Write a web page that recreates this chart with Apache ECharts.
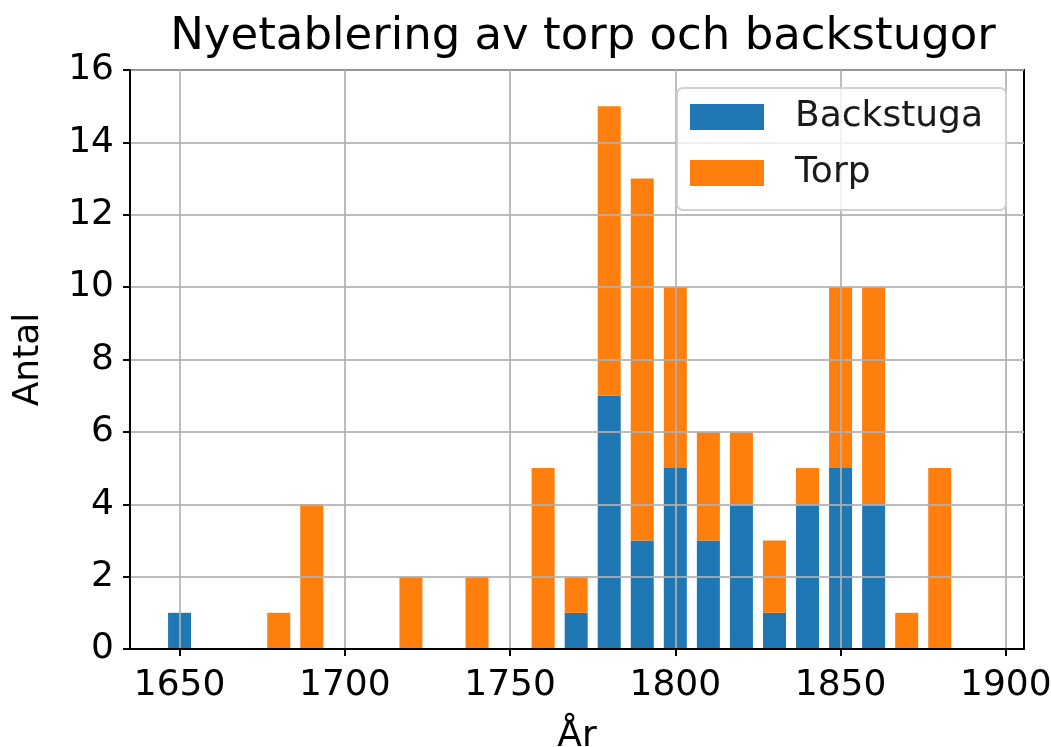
<!DOCTYPE html>
<html>
<head>
<meta charset="utf-8">
<script src="https://cdn.jsdelivr.net/npm/echarts@6/dist/echarts.min.js"></script>
<style>html,body{margin:0;padding:0;background:#fff}#c{width:1051px;height:747px}</style>
</head>
<body>
<div id="c"></div>
<script>
const years = [1650, 1680, 1690, 1720, 1740, 1760, 1770, 1780, 1790, 1800, 1810, 1820, 1830, 1840, 1850, 1860, 1870, 1880];
const backstuga = [1, 0, 0, 0, 0, 0, 1, 7, 3, 5, 3, 4, 1, 4, 5, 4, 0, 0];
const torp = [0, 1, 4, 2, 2, 5, 1, 8, 10, 5, 3, 2, 2, 1, 5, 6, 1, 5];
const xTicks = [1650, 1700, 1750, 1800, 1850, 1900];
const seriesNames = ['Backstuga', 'Torp'];
const titleText = 'Nyetablering av torp och backstugor';
const xName = 'År';
const yName = 'Antal';

const font = 'DejaVu Sans';
const chart = echarts.init(document.getElementById('c'), null, {renderer: 'canvas'});
const gridLine = {show: true, lineStyle: {color: 'rgba(176,176,176,0.85)', width: 2}};
chart.setOption({
  animation: false,
  title: {text: titleText, left: 578, textAlign: 'center', top: 10,
    textStyle: {fontFamily: font, fontSize: 45, fontWeight: 'normal', color: '#000'}},
  legend: {
    orient: 'vertical', left: 677, top: 88,
    padding: [11, 23, 19, 13], itemGap: 20, itemWidth: 74, itemHeight: 26,
    icon: 'rect',
    borderColor: '#d0d0d0', borderWidth: 2, borderRadius: 6,
    backgroundColor: 'rgba(255,255,255,0.8)',
    textStyle: {fontFamily: font, fontSize: 36, color: '#1a1a1a', padding: [0, 0, 0, 26]},
    data: seriesNames
  },
  grid: {left: 130, right: 27, top: 70, bottom: 98, show: true, borderColor: '#000', borderWidth: 2,
    containLabel: false, outerBoundsMode: 'none'},
  xAxis: {
    type: 'value', min: 1635, max: 1905.5, z: 3,
    name: xName, nameLocation: 'middle', nameGap: 70,
    nameTextStyle: {fontFamily: font, fontSize: 36, color: '#000'},
    axisLine: {show: true, lineStyle: {color: '#000', width: 2}},
    axisTick: {show: true, length: 7, inside: false, lineStyle: {color: '#000', width: 2}, customValues: xTicks},
    axisLabel: {fontFamily: font, fontSize: 36, color: '#000', margin: 19, customValues: xTicks,
      formatter: v => String(v)},
    splitLine: gridLine
  },
  yAxis: {
    type: 'value', min: 0, max: 16, interval: 2, z: 3,
    name: yName, nameLocation: 'middle', nameGap: 83, nameRotate: 90,
    nameTextStyle: {fontFamily: font, fontSize: 36, color: '#000'},
    axisLine: {show: true, lineStyle: {color: '#000', width: 2}},
    axisTick: {show: true, length: 7, inside: false, lineStyle: {color: '#000', width: 2}},
    axisLabel: {fontFamily: font, fontSize: 36, color: '#000', margin: 16},
    splitLine: gridLine
  },
  series: [
    {name: seriesNames[0], type: 'bar', stack: 'total', barWidth: 23,
      dimensions: ['count', 'year'], encode: {x: 1, y: 0},
      itemStyle: {color: '#1f77b4'}, data: years.map((y, i) => [backstuga[i], y])},
    {name: seriesNames[1], type: 'bar', stack: 'total', barWidth: 23,
      dimensions: ['count', 'year'], encode: {x: 1, y: 0},
      itemStyle: {color: '#ff7f0e'}, data: years.map((y, i) => [torp[i], y])}
  ]
});
</script>
</body>
</html>
